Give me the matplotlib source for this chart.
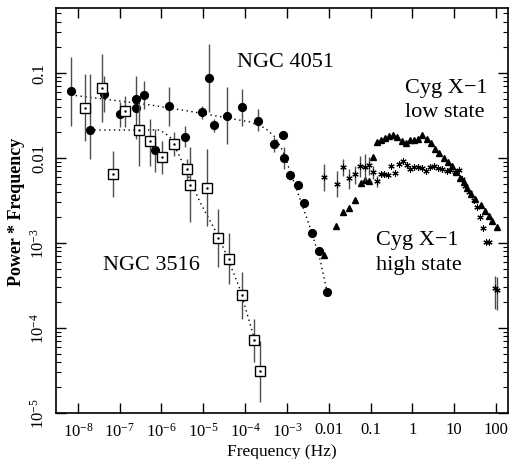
import matplotlib
matplotlib.use("Agg")
import matplotlib.pyplot as plt
import numpy as np

plt.rcParams['font.family'] = ['Liberation Serif', 'DejaVu Serif']
plt.rcParams['mathtext.fontset'] = 'custom'
plt.rcParams['mathtext.rm'] = 'Liberation Serif'
plt.rcParams['mathtext.it'] = 'Liberation Serif:italic'
plt.rcParams['mathtext.bf'] = 'Liberation Serif:bold'

# ---- NGC 4051 (filled circles) ----
n4051_f = [6.81e-9, 1.905e-8, 4.12e-8, 1.01e-7, 2.44e-7, 2.48e-7, 3.85e-7, 6.95e-7,
           1.53e-6, 3.63e-6, 9.1e-6, 1.36e-5, 1.76e-5, 3.73e-5, 8.38e-5, 1.99e-4,
           4.89e-4, 8.15e-4, 8.61e-4, 1.17e-3, 1.80e-3, 2.59e-3, 3.96e-3, 5.93e-3, 8.91e-3]
n4051_p = [0.0619, 0.0215, 0.0566, 0.033, 0.0494, 0.0391, 0.0556, 0.0123,
           0.0409, 0.0175, 0.0351, 0.0881, 0.0243, 0.0315, 0.0394, 0.0275,
           0.0144, 0.0187, 9.95e-3, 6.25e-3, 4.78e-3, 2.96e-3, 1.32e-3, 8.05e-4, 2.67e-4]
n4051_lo = [0.0238, 9.7e-3, 0.0348, 0.0232, 0.0167, 0.034, 0.0377, 6.8e-3,
            0.0238, 0.0135, 0.0288, 0.0348, 0.0202, 0.0146, 0.0238, 0.0208,
            0.0118, 0.0168, 7.43e-3, 5.5e-3, 4.3e-3, 2.96e-3, 1.32e-3, 8.05e-4, 2.67e-4]
n4051_hi = [0.154, 0.0973, 0.0923, 0.0456, 0.0923, 0.045, 0.0805, 0.022,
            0.0684, 0.0238, 0.041, 0.219, 0.0288, 0.0684, 0.0649, 0.0377,
            0.0177, 0.0208, 0.0135, 7.0e-3, 5.3e-3, 2.96e-3, 1.32e-3, 8.05e-4, 2.67e-4]
n4051_model_f = [6.81e-9, 5.27e-7, 8.30e-6, 1.30e-4, 2.98e-4, 5.16e-4, 8.02e-4,
                 1.18e-3, 2.05e-3, 3.55e-3, 6.15e-3, 9.06e-3]
n4051_model_p = [0.0551, 0.0421, 0.0338, 0.0265, 0.0225, 0.0177, 0.0121,
                 7.03e-3, 3.30e-3, 1.54e-3, 6.49e-4, 2.72e-4]

# ---- NGC 3516 (open squares) ----
n3516_f = [1.50e-8, 3.69e-8, 7.0e-8, 1.33e-7, 2.93e-7, 5.37e-7, 1.04e-6, 2.01e-6,
           3.98e-6, 4.91e-6, 1.20e-5, 2.20e-5, 4.17e-5, 8.24e-5, 1.65e-4, 2.30e-4]
n3516_p = [0.0391, 0.0671, 6.49e-3, 0.0354, 0.0213, 0.0157, 0.0102, 0.0145,
           7.46e-3, 4.84e-3, 4.48e-3, 1.14e-3, 6.53e-4, 2.43e-4, 7.23e-5, 3.10e-5]
n3516_lo = [0.0158, 0.0265, 3.48e-3, 0.0232, 8.05e-3, 8.05e-3, 6.49e-3, 0.0106,
            5.66e-3, 1.77e-3, 1.58e-3, 5.22e-4, 3.30e-4, 1.28e-4, 3.98e-5, 1.35e-5]
n3516_hi = [0.0973, 0.1675, 0.0121, 0.0536, 0.0432, 0.0288, 0.0158, 0.0202,
            9.73e-3, 0.0135, 0.0128, 2.51e-3, 1.31e-3, 4.56e-4, 1.28e-4, 7.03e-5]
n3516_model_f = [1.905e-8, 9.16e-7, 1.59e-6, 2.75e-6, 8.30e-6, 2.49e-5, 7.52e-5, 1.81e-4]
n3516_model_p = [0.0213, 0.0213, 0.0177, 0.0103, 3.03e-3, 1.11e-3, 2.88e-4, 6.49e-5]

# ---- Cyg X-1 low state (filled triangles) ----
cyg_low_f = [0.0078, 0.0153, 0.0225, 0.0304, 0.0424, 0.0589, 0.0755, 0.0941, 0.116,
             0.142, 0.177, 0.221, 0.280, 0.349, 0.435, 0.555, 0.692, 0.877, 1.09,
             1.38, 1.73, 2.20, 2.74, 3.47, 4.45, 5.70, 7.31, 9.11, 11.3, 13.8, 17.1,
             20.8, 25.2, 31.5, 43.1, 54.6, 68.0, 82.5, 103]
cyg_low_p = [7.2e-4, 1.57e-3, 2.29e-3, 2.58e-3, 3.16e-3, 5.08e-3, 5.43e-3, 5.30e-3, 0.0102,
             0.0154, 0.0161, 0.0171, 0.0180, 0.0187, 0.0175, 0.0157, 0.0150, 0.0162, 0.0164,
             0.0167, 0.0187, 0.0167, 0.0149, 0.0129, 0.0113, 9.86e-3, 8.90e-3, 7.94e-3,
             6.85e-3, 5.82e-3, 5.22e-3, 4.44e-3, 3.72e-3, 3.25e-3, 2.76e-3, 2.38e-3,
             2.05e-3, 1.79e-3, 1.54e-3]

# ---- Cyg X-1 high state (asterisks) ----
cyg_high_f = [0.00767, 0.0155, 0.0225, 0.0304, 0.0417, 0.0573, 0.0726, 0.0931, 0.116,
              0.145, 0.174, 0.209, 0.257, 0.316, 0.390, 0.478, 0.596, 0.730, 0.891,
              1.09, 1.38, 1.73, 2.08, 2.64, 3.29, 4.17, 5.19, 6.62, 8.15, 10.4, 13.0,
              15.4, 18.1, 23.0, 29.8, 35.1, 40.7, 48.1, 59.3, 68.0, 94.6, 106]
cyg_high_p = [5.93e-3, 4.94e-3, 7.83e-3, 5.74e-3, 6.48e-3, 8.05e-3, 7.73e-3, 8.28e-3,
              6.84e-3, 5.29e-3, 6.48e-3, 6.48e-3, 6.22e-3, 8.11e-3, 6.67e-3, 8.39e-3,
              9.1e-3, 8.28e-3, 7.33e-3, 7.78e-3, 7.78e-3, 7.57e-3, 7.10e-3, 7.78e-3,
              7.98e-3, 7.57e-3, 7.43e-3, 7.10e-3, 7.23e-3, 6.79e-3, 7.23e-3, 5.66e-3,
              4.72e-3, 3.94e-3, 3.16e-3, 2.63e-3, 2.01e-3, 1.48e-3, 1.04e-3, 1.04e-3,
              2.96e-4, 2.80e-4]
cyg_high_lo = [4.09e-3, 3.48e-3, 6.14e-3, 4.31e-3, 4.94e-3, 5.97e-3, 5.36e-3, 6.31e-3,
               5.66e-3, 4.6e-3] + cyg_high_p[10:40] + [1.68e-4, 1.62e-4]
cyg_high_hi = [8.5e-3, 7.03e-3, 9.73e-3, 7.43e-3, 8.05e-3, 0.0106, 0.0111, 0.0103,
               8.05e-3, 6.1e-3] + cyg_high_p[10:40] + [4.09e-4, 3.95e-4]

x_ticks = [1e-8, 1e-7, 1e-6, 1e-5, 1e-4, 1e-3, 1e-2, 1e-1, 1, 10, 100]
x_labels = ['$10^{-8}$', '$10^{-7}$', '$10^{-6}$', '$10^{-5}$', '$10^{-4}$', '$10^{-3}$',
            '0.01', '0.1', '1', '10', '100']
y_ticks = [1e-5, 1e-4, 1e-3, 1e-2, 1e-1]
y_labels = ['$10^{-5}$', '$10^{-4}$', '$10^{-3}$', '0.01', '0.1']


def yerr(p, lo, hi):
    p = np.array(p)
    return [p - np.array(lo), np.array(hi) - p]


fig = plt.figure(figsize=(5.1, 4.6), dpi=100)
ax = fig.add_axes([0.109, 0.1, 0.887, 0.88])
ax.set_xscale('log')
ax.set_yscale('log')

ecol = '0.3'
ax.plot(n4051_model_f, n4051_model_p, color='k', ls=(0, (1, 2.5)), lw=1, zorder=2)
ax.plot(n3516_model_f, n3516_model_p, color='k', ls=(0, (1, 2.5)), lw=1, zorder=2)

ax.errorbar(n4051_f, n4051_p, yerr=yerr(n4051_p, n4051_lo, n4051_hi), fmt='o', ms=5.6,
            color='k', ecolor=ecol, elinewidth=1, capsize=0, zorder=3)
ax.errorbar(n3516_f, n3516_p, yerr=yerr(n3516_p, n3516_lo, n3516_hi), fmt='s', ms=7,
            mfc='white', mec='k', mew=1, ecolor=ecol, elinewidth=1, capsize=0, zorder=4)
ax.plot(n3516_f, n3516_p, ls='none', marker='.', ms=1.5, color='k', zorder=5)

ax.plot(cyg_low_f, cyg_low_p, ls='none', marker='^', ms=5, color='k', zorder=3)
ax.errorbar(cyg_high_f, cyg_high_p, yerr=yerr(cyg_high_p, cyg_high_lo, cyg_high_hi),
            fmt='none', ecolor=ecol, elinewidth=1, capsize=0, zorder=3)
ax.plot(cyg_high_f, cyg_high_p, ls='none', marker=(6, 2, 0), ms=4.5, mew=0.8,
        color='k', zorder=4)

ax.set_xlim(2.93e-9, 193.6)
ax.set_ylim(1e-5, 0.577)

ax.set_xticks(x_ticks)
ax.set_xticklabels(x_labels, fontsize=12)
ax.set_yticks(y_ticks)
ax.set_yticklabels(y_labels, fontsize=12, rotation=90, va='center')

ax.tick_params(which='both', direction='in', top=True, right=True)
ax.tick_params(which='major', length=7, width=1, pad=6)
ax.tick_params(axis='y', which='major', pad=6)
ax.tick_params(which='minor', length=3.5, width=0.8)
for s in ax.spines.values():
    s.set_linewidth(1.2)

ax.set_xlabel('Frequency (Hz)', fontsize=12.5, labelpad=3)
ax.set_ylabel('Power * Frequency', fontsize=13, fontweight='bold', labelpad=3)

ax.text(0.4007, 0.858, 'NGC 4051', transform=ax.transAxes, fontsize=16, va='baseline')
ax.text(0.1046, 0.356, 'NGC 3516', transform=ax.transAxes, fontsize=16, va='baseline')
ax.text(0.772, 0.793, 'Cyg X\u22121', transform=ax.transAxes, fontsize=16, va='baseline')
ax.text(0.772, 0.734, 'low state', transform=ax.transAxes, fontsize=16, va='baseline')
ax.text(0.709, 0.4176, 'Cyg X\u22121', transform=ax.transAxes, fontsize=16, va='baseline')
ax.text(0.709, 0.356, 'high state', transform=ax.transAxes, fontsize=16, va='baseline')

fig.savefig('out.png', dpi=100)
